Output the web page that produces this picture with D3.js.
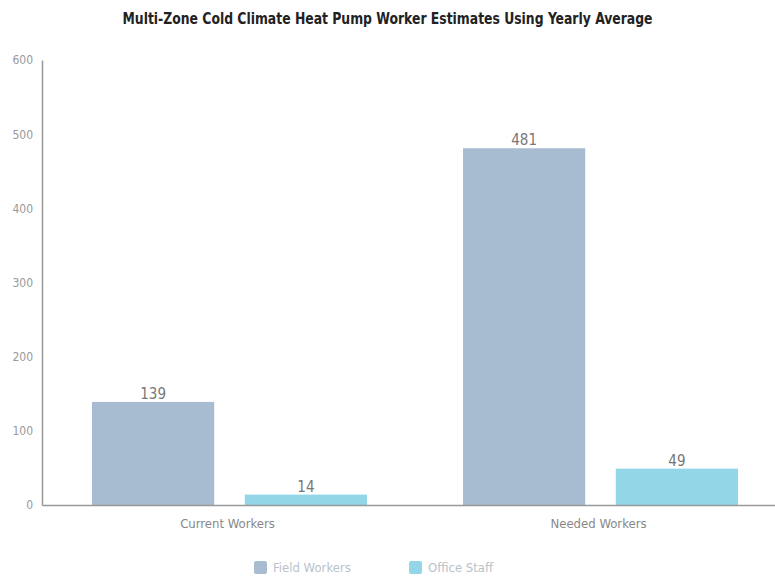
<!DOCTYPE html>
<html>
<head>
<meta charset="utf-8">
<script src="https://cdn.jsdelivr.net/npm/d3@7"></script>
<style>
  body { margin: 0; background: #fff; }
  text { font-family: "DejaVu Sans Condensed", "Liberation Sans Narrow", sans-serif; }
</style>
</head>
<body>
<div id="chart"></div>
<script>
var categories = ["Current Workers", "Needed Workers"];
var seriesNames = ["Field Workers", "Office Staff"];
var fieldWorkers = [139, 481];
var officeStaff = [14, 49];
var yTicks = [0, 100, 200, 300, 400, 500, 600];
var colors = ["#a7bcd0", "#93d6e8"];

var width = 775, height = 578;
var margin = {top: 60, right: -9, bottom: 73, left: 42};

var svg = d3.select("#chart").append("svg")
    .attr("width", width)
    .attr("height", height);

var x0 = d3.scaleBand()
    .domain(categories)
    .range([margin.left, width - margin.right]);

var x1 = d3.scaleBand()
    .domain(seriesNames)
    .range([50, x0.bandwidth() - 46])
    .paddingInner(0.2);

var y = d3.scaleLinear()
    .domain([0, 600])
    .range([height - margin.bottom, margin.top]);

var rows = categories.map(function(c, i) {
    return {cat: c, values: [
        {name: seriesNames[0], v: fieldWorkers[i]},
        {name: seriesNames[1], v: officeStaff[i]}
    ]};
});

// title - squeezed to mimic the condensed face of the original
svg.append("text")
    .attr("x", width / 2)
    .attr("y", 24)
    .attr("text-anchor", "middle")
    .attr("textLength", 530)
    .attr("lengthAdjust", "spacingAndGlyphs")
    .style("font-size", "16px")
    .style("font-weight", "bold")
    .style("fill", "#222")
    .text("Multi-Zone Cold Climate Heat Pump Worker Estimates Using Yearly Average");

// y axis
var yAxis = svg.append("g")
    .attr("transform", "translate(" + margin.left + ",0)")
    .call(d3.axisLeft(y).tickValues(yTicks).tickSize(0).tickPadding(9));
yAxis.select(".domain").attr("stroke", "#999").attr("stroke-width", 1.5);
yAxis.selectAll("text").style("font-size", "12px").style("fill", "#999");

// bars
var groups = svg.append("g").selectAll("g")
    .data(rows)
    .enter().append("g")
    .attr("transform", function(d) { return "translate(" + x0(d.cat) + ",0)"; });

groups.selectAll("rect")
    .data(function(d) { return d.values; })
    .enter().append("rect")
    .attr("x", function(d) { return x1(d.name); })
    .attr("y", function(d) { return y(d.v); })
    .attr("width", x1.bandwidth())
    .attr("height", function(d) { return y(0) - y(d.v); })
    .attr("fill", function(d, i) { return colors[i]; });

groups.selectAll(".lbl")
    .data(function(d) { return d.values; })
    .enter().append("text")
    .attr("class", "lbl")
    .attr("x", function(d) { return x1(d.name) + x1.bandwidth() / 2; })
    .attr("y", function(d) { return y(d.v) - 3; })
    .attr("text-anchor", "middle")
    .style("font-size", "15px")
    .style("fill", "#777")
    .text(function(d) { return d.v; });

// x axis
var xAxis = svg.append("g")
    .attr("transform", "translate(0," + y(0) + ")")
    .call(d3.axisBottom(x0).tickSize(0).tickPadding(14));
xAxis.select(".domain").attr("stroke", "#999").attr("stroke-width", 1.5);
xAxis.selectAll("text").style("font-size", "13px").style("fill", "#888");

// legend
var legendX = [254, 409];
var legend = svg.append("g").selectAll("g")
    .data(seriesNames)
    .enter().append("g")
    .attr("transform", function(d, i) { return "translate(" + legendX[i] + ",561)"; });
legend.append("rect")
    .attr("width", 13).attr("height", 13).attr("rx", 2)
    .attr("fill", function(d, i) { return colors[i]; });
legend.append("text")
    .attr("x", 19).attr("y", 11)
    .style("font-size", "13px")
    .style("fill", "#b8c2cc")
    .text(function(d) { return d; });
</script>
</body>
</html>
